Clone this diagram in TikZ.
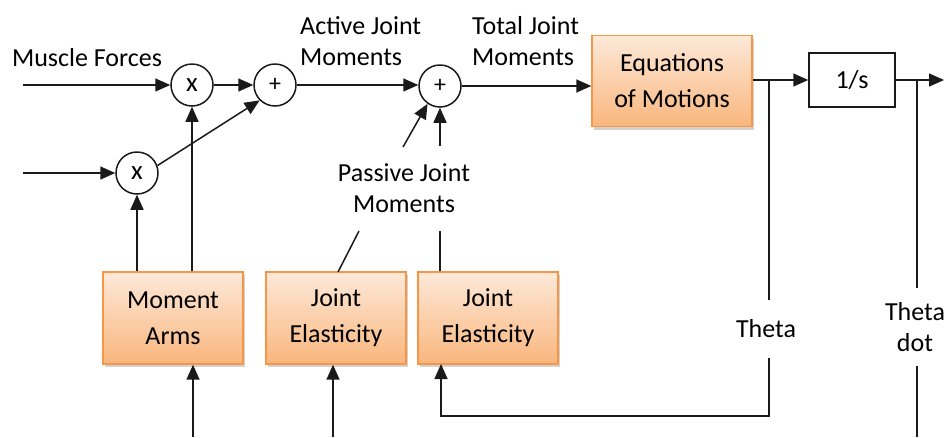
\documentclass[tikz,border=0pt]{standalone}
\usepackage{fontspec}
\setmainfont{Carlito}
\usetikzlibrary{arrows.meta,shadows,calc}
\definecolor{boxtop}{HTML}{FDE9D9}
\definecolor{boxbot}{HTML}{F9B67D}
\definecolor{boxline}{HTML}{F79646}
\definecolor{ink}{HTML}{1A1A1A}
\begin{document}
\begin{tikzpicture}[x=1pt,y=1pt,
  font=\fontsize{26}{31}\selectfont,
  conn/.style={draw=ink,line width=1.5pt},
  arr/.style={conn,-{Triangle[length=15pt,width=13pt]}},
  sumnode/.style={circle,draw=ink,line width=1.5pt,minimum size=42pt,inner sep=0pt,fill=white},
  orangebox/.style={rectangle,draw=boxline,line width=1.4pt,top color=boxtop,bottom color=boxbot,
     align=center,inner sep=0pt,font=\fontsize{26}{36}\selectfont,
     drop shadow={opacity=0.35,shadow xshift=2pt,shadow yshift=-3pt}},
  lbl/.style={inner sep=0pt,font=\fontsize{26}{31}\selectfont}
]
\useasboundingbox (0,0) rectangle (944,-437);
\fill[white] (0,0) rectangle (944,-437);

% summing / multiplying junctions
\node[sumnode,font=\fontsize{27}{27}\selectfont] (m1) at (192,-85) {x};
\node[sumnode,font=\fontsize{24}{24}\selectfont] (p1) at (275,-85) {+};
\node[sumnode,font=\fontsize{27}{27}\selectfont] (m2) at (137,-173) {x};
\node[sumnode,font=\fontsize{24}{24}\selectfont] (p2) at (440,-86) {+};

% blocks
\node[orangebox,minimum width=160pt,minimum height=91pt] (eom) at (672,-81) {Equations\\of Motions};
\node[rectangle,draw=ink,line width=1.5pt,minimum width=86pt,minimum height=54pt,inner sep=0pt] (integ) at (852,-80) {1/s};
\node[orangebox,minimum width=140pt,minimum height=92pt] (ma) at (173,-318) {Moment\\Arms};
\node[orangebox,minimum width=140pt,minimum height=92pt] (je1) at (336,-318) {Joint\\Elasticity};
\node[orangebox,minimum width=140pt,minimum height=92pt] (je2) at (488,-318) {Joint\\Elasticity};

% labels
\node[lbl] (lmf) at (87,-58) {Muscle Forces};
\node[lbl,align=left,anchor=west] (lajm) at (300,-41) {Active Joint\\Moments};
\node[lbl,align=left,anchor=west] (ltjm) at (472,-41) {Total Joint\\Moments};
\node[lbl,align=center] (lpjm) at (404,-188) {Passive Joint\\Moments};
\node[lbl,minimum height=58pt] (theta) at (766,-329) {Theta};
\node[lbl,align=center,minimum height=78pt] (thd) at (915,-327) {Theta\\dot};

% coordinates
\coordinate (in1) at (23,-85);
\coordinate (in2) at (23,-173);
\coordinate (out) at (944,-80);
\coordinate (tb) at (769,-80);
\coordinate (tdb) at (917,-80);
\coordinate (fb) at (769,-416);
\coordinate (je2in) at (441,-364);
\coordinate (s1) at (359,-231);
\coordinate (s2) at (403,-147);
\coordinate (s3) at (440,-231);
\coordinate (s4) at (440,-146);
\coordinate (b1) at (193,-437);
\coordinate (b2) at (333,-437);
\coordinate (b3) at (917,-437);

% forward path
\draw[arr] (in1) -- (m1);
\draw[arr] (in2) -- (m2);
\draw[arr] (m1) -- (p1);
\draw[arr] (m2.20) -- (p1.225);
\draw[arr] (p1) -- (p1 -| p2.west);
\draw[arr] (p2) -- (eom.west |- p2);
\draw[arr] (eom.east |- integ) -- (integ);
\draw[arr] (integ) -- (out);

% moment arms
\draw[arr] (m2 |- ma.north) -- (m2);
\draw[arr] (m1 |- ma.north) -- (m1);
\draw[arr] (b1) -- (b1 |- ma.south);
\draw[arr] (b2) -- (b2 |- je1.south);

% passive moments
\draw[conn] (338,-272) -- (s1);
\draw[arr] (s2) -- (p2.235);
\draw[conn] (s3 |- je2.north) -- (s3);
\draw[arr] (s4) -- (p2);

% theta feedback
\draw[conn] (tb) -- (tb |- theta.north);
\draw[arr] (tb |- theta.south) -- (fb) -| (je2in);

% theta dot
\draw[conn] (tdb) -- (tdb |- thd.north);
\draw[conn] (tdb |- thd.south) -- (b3);
\end{tikzpicture}
\end{document}
